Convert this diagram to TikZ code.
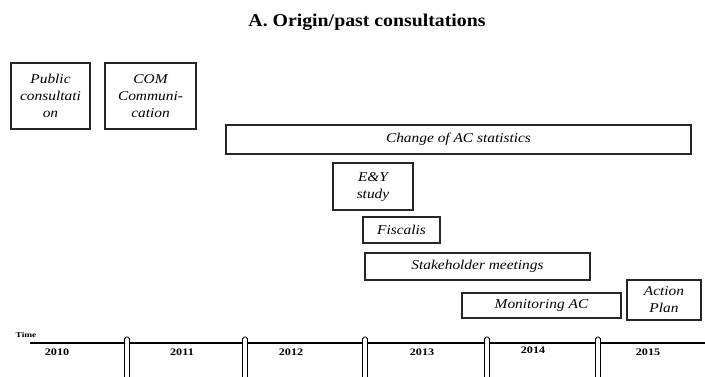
\documentclass[tikz,border=0pt]{standalone}
\usepackage{fontspec}
\setmainfont{Liberation Serif}
\begin{document}
\begin{tikzpicture}[x=1pt,y=-1pt,
  box/.style={draw=black!85, line width=1.3pt, inner sep=0pt, align=center,
    font=\fontsize{13.5}{17}\selectfont\itshape\addfontfeature{FakeStretch=1.14}},
  yearlbl/.style={font=\fontsize{10}{11}\selectfont\bfseries\addfontfeature{FakeStretch=1.22}, inner sep=0pt},
  tickbar/.style={draw=black, line width=0.9pt, fill=white, rounded corners=1.8pt}
]
\useasboundingbox (0,0) rectangle (705,376);
\fill[white] (0,0) rectangle (705,376);

\node[font=\fontsize{18}{20}\selectfont\bfseries\addfontfeature{FakeStretch=1.1}] (title) at (367,22) {A. Origin/past consultations};

\node[box, minimum width=79pt, minimum height=66pt] (pub) at (50.5,96) {Public\\consultati\\on};
\node[box, minimum width=91pt, minimum height=66pt] (com) at (150.5,96) {COM\\Communi-\\cation};
\node[box, minimum width=465pt, minimum height=29pt] (chg) at (458.5,139.5) {Change of AC statistics};
\node[box, minimum width=80pt, minimum height=47pt] (ey) at (373,186.5) {E\&Y\\study};
\node[box, minimum width=77pt, minimum height=26pt] (fis) at (401.5,230) {Fiscalis};
\node[box, minimum width=225pt, minimum height=27pt] (stk) at (477.5,266.5) {Stakeholder meetings};
\node[box, minimum width=159pt, minimum height=25pt] (mon) at (541.5,305.5) {Monitoring AC};
\node[box, minimum width=74pt, minimum height=40pt] (act) at (664,300) {Action\\Plan};

\node[font=\fontsize{7.5}{8}\selectfont\bfseries\addfontfeature{FakeStretch=1.25}, inner sep=0pt] (time) at (26,335) {Time};
\coordinate (tl0) at (30,343);
\coordinate (tl1) at (705,343);
\draw[line width=1.3pt] (tl0) -- (tl1);

\begin{scope}
\clip (0,0) rectangle (705,376);
\foreach \x in {127,245,365,487,598} {
  \draw[tickbar] (\x-2.5,337) rectangle (\x+2.5,385);
}
\end{scope}

\node[yearlbl] (y2010) at (57,352) {2010};
\node[yearlbl] (y2011) at (182,352) {2011};
\node[yearlbl] (y2012) at (291,352) {2012};
\node[yearlbl] (y2013) at (422,352) {2013};
\node[yearlbl] (y2014) at (533,350) {2014};
\node[yearlbl] (y2015) at (648,352) {2015};
\end{tikzpicture}
\end{document}
